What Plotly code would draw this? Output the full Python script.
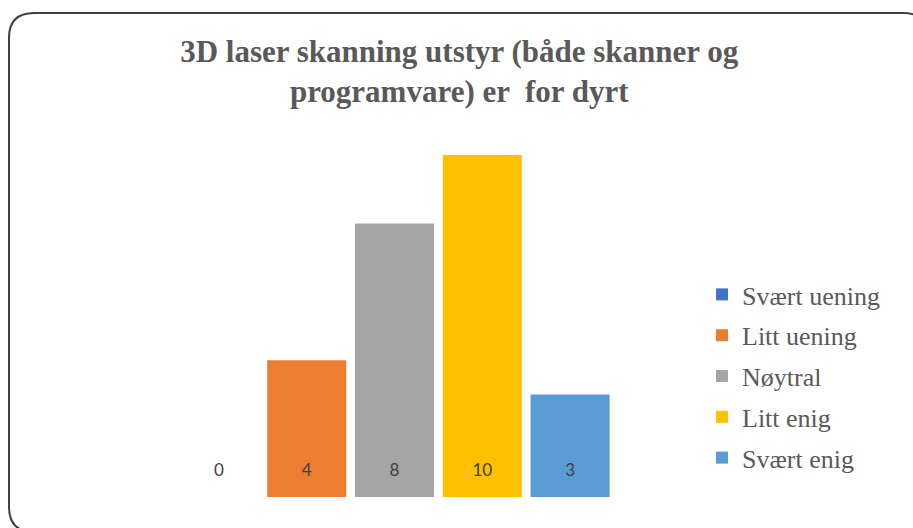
import plotly.graph_objects as go

# Survey answers: one bar per response option
categories = ["Svært uening", "Litt uening", "Nøytral", "Litt enig", "Svært enig"]
counts = [0, 4, 8, 10, 3]
colors = ["#4472C4", "#ED7D31", "#A5A5A5", "#FFC000", "#5B9BD5"]
title_text = "3D laser skanning utstyr (både skanner og<br>programvare) er  for dyrt"

W, H = 913, 528


def px(x):
    return x / W


def py(y):
    return 1 - y / H


fig = go.Figure()

for i, (cat, val, col) in enumerate(zip(categories, counts, colors)):
    fig.add_trace(go.Bar(
        x=[cat], y=[val], name=cat,
        marker=dict(color=col, line=dict(width=0)),
        legendgroup=cat,
        hoverinfo="skip",
    ))

# Value labels sitting near the base of each bar
fig.add_trace(go.Scatter(
    x=categories, y=[0.73] * len(categories),
    mode="text",
    text=[str(v) for v in counts],
    textfont=dict(family="Lato, Open Sans, sans-serif", size=17, color="#404040"),
    showlegend=False, hoverinfo="skip", cliponaxis=False,
))

# Rounded chart frame
r = 25
x0, y0, x1, y1 = 9, 13, 928, 532
frame = (
    f"M {px(x0)},{py(y0 + r)} "
    f"Q {px(x0)},{py(y0)} {px(x0 + r)},{py(y0)} "
    f"L {px(x1 - r)},{py(y0)} "
    f"Q {px(x1)},{py(y0)} {px(x1)},{py(y0 + r)} "
    f"L {px(x1)},{py(y1 - r)} "
    f"Q {px(x1)},{py(y1)} {px(x1 - r)},{py(y1)} "
    f"L {px(x0 + r)},{py(y1)} "
    f"Q {px(x0)},{py(y1)} {px(x0)},{py(y1 - r)} Z"
)

fig.update_layout(
    width=W, height=H,
    margin=dict(l=0, r=0, t=0, b=0),
    paper_bgcolor="white", plot_bgcolor="white",
    barmode="overlay",
    bargap=0.1,
    title=dict(
        text=title_text,
        x=0.503, xanchor="center",
        y=py(62), yanchor="top",
        font=dict(family="Liberation Serif, Times New Roman, serif", size=31, color="#595959", weight="bold"),
    ),
    xaxis=dict(
        domain=[px(175), px(614)],
        range=[-0.5, 4.5],
        showticklabels=False, showgrid=False, zeroline=False, showline=False,
        ticks="",
    ),
    yaxis=dict(
        domain=[py(497), py(155)],
        range=[0, 10],
        showticklabels=False, showgrid=False, zeroline=False, showline=False,
        ticks="",
    ),
    legend=dict(
        x=px(702), xanchor="left",
        y=py(271), yanchor="top",
        font=dict(family="Liberation Serif, Times New Roman, serif", size=26, color="#595959"),
        tracegroupgap=4,
        itemwidth=30,
        bgcolor="rgba(0,0,0,0)",
    ),
    shapes=[dict(
        type="path", xref="paper", yref="paper", path=frame,
        line=dict(color="#404040", width=2), fillcolor="rgba(0,0,0,0)",
        layer="above",
    )],
)

fig.write_html("out.html")
